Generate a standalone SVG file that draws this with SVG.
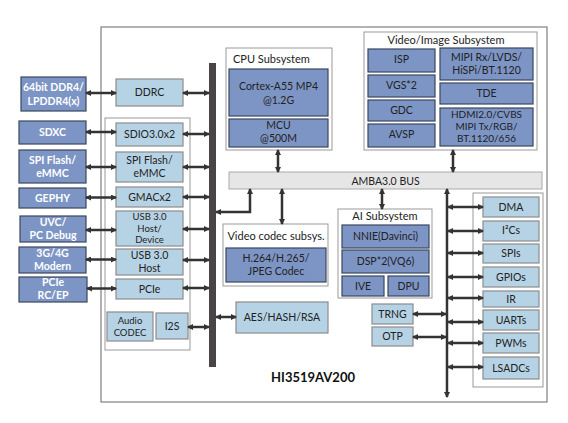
<svg xmlns="http://www.w3.org/2000/svg" width="568" height="423" viewBox="0 0 568 423">
<defs>
<marker id="ah" viewBox="0 0 6 6" refX="5" refY="3" markerWidth="6" markerHeight="6" markerUnits="userSpaceOnUse" orient="auto-start-reverse">
<path d="M0,0 L6,3 L0,6 z" fill="#333"/>
</marker>
<style>
text{font-family:Lato,"Open Sans","Liberation Sans",sans-serif;font-size:10.5px;fill:#222;text-anchor:middle}
.wt{fill:#fff;font-weight:bold;font-size:10.5px}
.ext{fill:#7d95c5;stroke:#3a465e;stroke-width:1.2}
.dk{fill:#7d95c5;stroke:#3a465e;stroke-width:1.2}
.lt{fill:#b6d3e5;stroke:#8c8c8c;stroke-width:1.2}
.grp{fill:#fff;stroke:#999;stroke-width:1}
.c{fill:none;stroke:#333;stroke-width:2.5;marker-start:url(#ah);marker-end:url(#ah)}
.t{font-size:11px}
.s{font-size:9.5px}
.m{font-size:10px}
</style>
</defs>
<rect width="568" height="423" fill="#fff"/>
<g id="chip"><rect x="101" y="27" width="446" height="375" fill="#fff" stroke="#666" stroke-width="1"/>
<text x="313" y="382" style="font-size:13px;font-weight:bold;fill:#111">HI3519AV200</text></g>

<g id="ddr4"><rect class="ext" x="21" y="77" width="65" height="34"/><text class="wt" x="53.5" y="91">64bit DDR4/</text><text class="wt" x="53.5" y="104.5">LPDDR4(x)</text></g>
<g id="sdxc"><rect class="ext" x="19" y="121" width="67" height="23"/><text class="wt" x="52.5" y="136">SDXC</text></g>
<g id="spiflash-ext"><rect class="ext" x="19" y="150" width="67" height="33"/><text class="wt" x="52.5" y="164.3">SPI Flash/</text><text class="wt" x="52.5" y="177">eMMC</text></g>
<g id="gephy"><rect class="ext" x="19" y="188" width="67" height="20"/><text class="wt" x="52.5" y="202">GEPHY</text></g>
<g id="uvc"><rect class="ext" x="20" y="216" width="66" height="26"/><text class="wt" x="53" y="226">UVC/</text><text class="wt" x="53" y="239">PC Debug</text></g>
<g id="modem"><rect class="ext" x="19" y="247" width="67" height="26"/><text class="wt" x="52.5" y="256.8">3G/4G</text><text class="wt" x="52.5" y="269.5">Modern</text></g>
<g id="pcie-ext"><rect class="ext" x="19" y="277" width="68" height="25"/><text class="wt" x="53" y="286">PCIe</text><text class="wt" x="53" y="299">RC/EP</text></g>

<g id="bar"><rect x="209" y="63" width="7" height="304" fill="#4a4545"/></g>

<g id="ddrc"><rect class="lt" x="116" y="79" width="67" height="27"/><text x="149.5" y="96">DDRC</text></g>
<g id="iogroup"><rect class="grp" x="105" y="118" width="85" height="232"/></g>
<g id="sdio"><rect class="lt" x="116" y="123" width="67" height="23"/><text x="149.5" y="138">SDIO3.0x2</text></g>
<g id="spiflash"><rect class="lt" x="116" y="152" width="67" height="30"/><text x="149.5" y="163.5">SPI Flash/</text><text x="149.5" y="177">eMMC</text></g>
<g id="gmac"><rect class="lt" x="116" y="187" width="67" height="20"/><text x="149.5" y="201">GMACx2</text></g>
<g id="usbdev"><rect class="lt" x="116" y="211" width="67" height="35"/><text class="s" x="149.5" y="220">USB 3.0</text><text class="s" x="149.5" y="231.5">Host/</text><text class="s" x="149.5" y="243">Device</text></g>
<g id="usbhost"><rect class="lt" x="116" y="249" width="67" height="26"/><text x="149.5" y="259.3">USB 3.0</text><text x="149.5" y="272">Host</text></g>
<g id="pcie"><rect class="lt" x="116" y="279" width="67" height="20"/><text x="149.5" y="292.5">PCIe</text></g>
<g id="audio"><rect class="lt" x="107" y="312" width="46" height="29"/><text class="s" x="130" y="324">Audio</text><text class="s" x="130" y="335.5">CODEC</text></g>
<g id="i2s"><rect class="lt" x="156" y="313" width="32" height="26"/><text x="172" y="330">I2S</text></g>

<g id="cpu"><rect class="grp" x="226" y="48" width="106" height="102"/><text x="233" y="63" style="text-anchor:start" class="t">CPU Subsystem</text>
<rect class="dk" x="229" y="69" width="99" height="47"/><text x="278.5" y="89.5">Cortex-A55 MP4</text><text x="278.5" y="104">@1.2G</text>
<rect class="dk" x="229" y="119" width="99" height="28"/><text x="278.5" y="129.3">MCU</text><text x="278.5" y="142">@500M</text></g>

<g id="video"><rect class="grp" x="364" y="32" width="173" height="118"/><text x="446" y="44" class="t">Video/Image Subsystem</text>
<rect class="dk" x="368" y="49" width="67" height="23"/><text x="401.5" y="63">ISP</text>
<rect class="dk" x="368" y="75" width="67" height="22"/><text x="401.5" y="88.5">VGS*2</text>
<rect class="dk" x="368" y="100" width="67" height="21"/><text x="401.5" y="113.5">GDC</text>
<rect class="dk" x="368" y="124" width="67" height="23"/><text x="401.5" y="138">AVSP</text>
<rect class="dk" x="440" y="48" width="93" height="32"/><text x="486.5" y="60.8">MIPI Rx/LVDS/</text><text x="486.5" y="73.5">HiSPi/BT.1120</text>
<rect class="dk" x="440" y="83" width="93" height="21"/><text x="486.5" y="97">TDE</text>
<rect class="dk" x="440" y="108" width="93" height="38"/><text class="m" x="486.5" y="117.5">HDMI2.0/CVBS</text><text class="m" x="486.5" y="129.5">MIPI Tx/RGB/</text><text class="m" x="486.5" y="141.5">BT.1120/656</text></g>

<g id="amba"><rect x="229" y="172" width="313" height="17" fill="#e6e6e6" stroke="#aaa" stroke-width="1"/><text x="385.5" y="184.5">AMBA3.0 BUS</text></g>

<g id="vcodec"><rect class="grp" x="223" y="224" width="105" height="62"/><text x="276" y="240" class="t">Video codec subsys.</text>
<rect class="dk" x="226" y="248" width="100" height="34"/><text x="276" y="262">H.264/H.265/</text><text x="276" y="274.7">JPEG Codec</text></g>

<g id="ai"><rect class="grp" x="338" y="209" width="94" height="89"/><text x="385" y="220" class="t">AI Subsystem</text>
<rect class="dk" x="342" y="225" width="87" height="23"/><text x="385.5" y="239.5">NNIE(Davinci)</text>
<rect class="dk" x="342" y="250" width="87" height="23"/><text x="385.5" y="265">DSP*2(VQ6)</text>
<rect class="dk" x="342" y="276" width="42" height="20"/><text x="363" y="289.5">IVE</text>
<rect class="dk" x="388" y="276" width="41" height="20"/><text x="408.5" y="289.5">DPU</text></g>

<g id="aes"><rect class="lt" x="236" y="302" width="92" height="31"/><text x="282" y="321">AES/HASH/RSA</text></g>
<g id="trng"><rect class="lt" x="372" y="304" width="41" height="20"/><text x="392.5" y="318">TRNG</text></g>
<g id="otp"><rect class="lt" x="372" y="327" width="41" height="19"/><text x="392.5" y="340">OTP</text></g>

<g id="periph"><rect class="grp" x="473" y="193" width="70" height="194"/>
<rect class="lt" x="483" y="197" width="56" height="20"/><text x="511" y="210.5">DMA</text>
<rect class="lt" x="483" y="221" width="56" height="20"/><text x="511" y="234">I²Cs</text>
<rect class="lt" x="483" y="244" width="56" height="19"/><text x="511" y="257">SPIs</text>
<rect class="lt" x="483" y="267" width="56" height="20"/><text x="511" y="281">GPIOs</text>
<rect class="lt" x="483" y="291" width="56" height="16"/><text x="511" y="302.5">IR</text>
<rect class="lt" x="483" y="310" width="56" height="20"/><text x="511" y="323.5">UARTs</text>
<rect class="lt" x="483" y="333" width="56" height="20"/><text x="511" y="347">PWMs</text>
<rect class="lt" x="483" y="357" width="56" height="22"/><text x="511" y="371.5">LSADCs</text></g>

<g id="connectors">
<path class="c" d="M86,93 H116"/><path class="c" d="M183,93 H209"/>
<path class="c" d="M86,132 H116"/><path class="c" d="M183,134 H209"/>
<path class="c" d="M86,167 H116"/><path class="c" d="M183,167 H209"/>
<path class="c" d="M86,197.5 H116"/><path class="c" d="M183,197 H209"/>
<path class="c" d="M86,230 H116"/><path class="c" d="M183,229 H209"/>
<path class="c" d="M86,259.5 H116"/><path class="c" d="M183,260 H209"/>
<path class="c" d="M87,288.5 H116"/><path class="c" d="M183,288 H209"/>
<path class="c" d="M188,327 H209"/>
<path class="c" d="M278,150 V172"/>
<path class="c" d="M453,150 V172"/>
<path class="c" d="M250,189 V212 H216"/>
<path class="c" d="M282,189 V224"/>
<path class="c" d="M382,189 V209"/>
<path class="c" d="M216,317 H236"/>
<path class="c" d="M447,189 V397"/>
<path class="c" d="M413,314 H446"/>
<path class="c" d="M413,337 H446"/>
<path class="c" d="M448,207 H483"/>
<path class="c" d="M448,231 H483"/>
<path class="c" d="M448,253 H483"/>
<path class="c" d="M448,277 H483"/>
<path class="c" d="M448,298 H483"/>
<path class="c" d="M448,322 H483"/>
<path class="c" d="M448,343 H483"/>
<path class="c" d="M448,367 H483"/>
</g>
</svg>
